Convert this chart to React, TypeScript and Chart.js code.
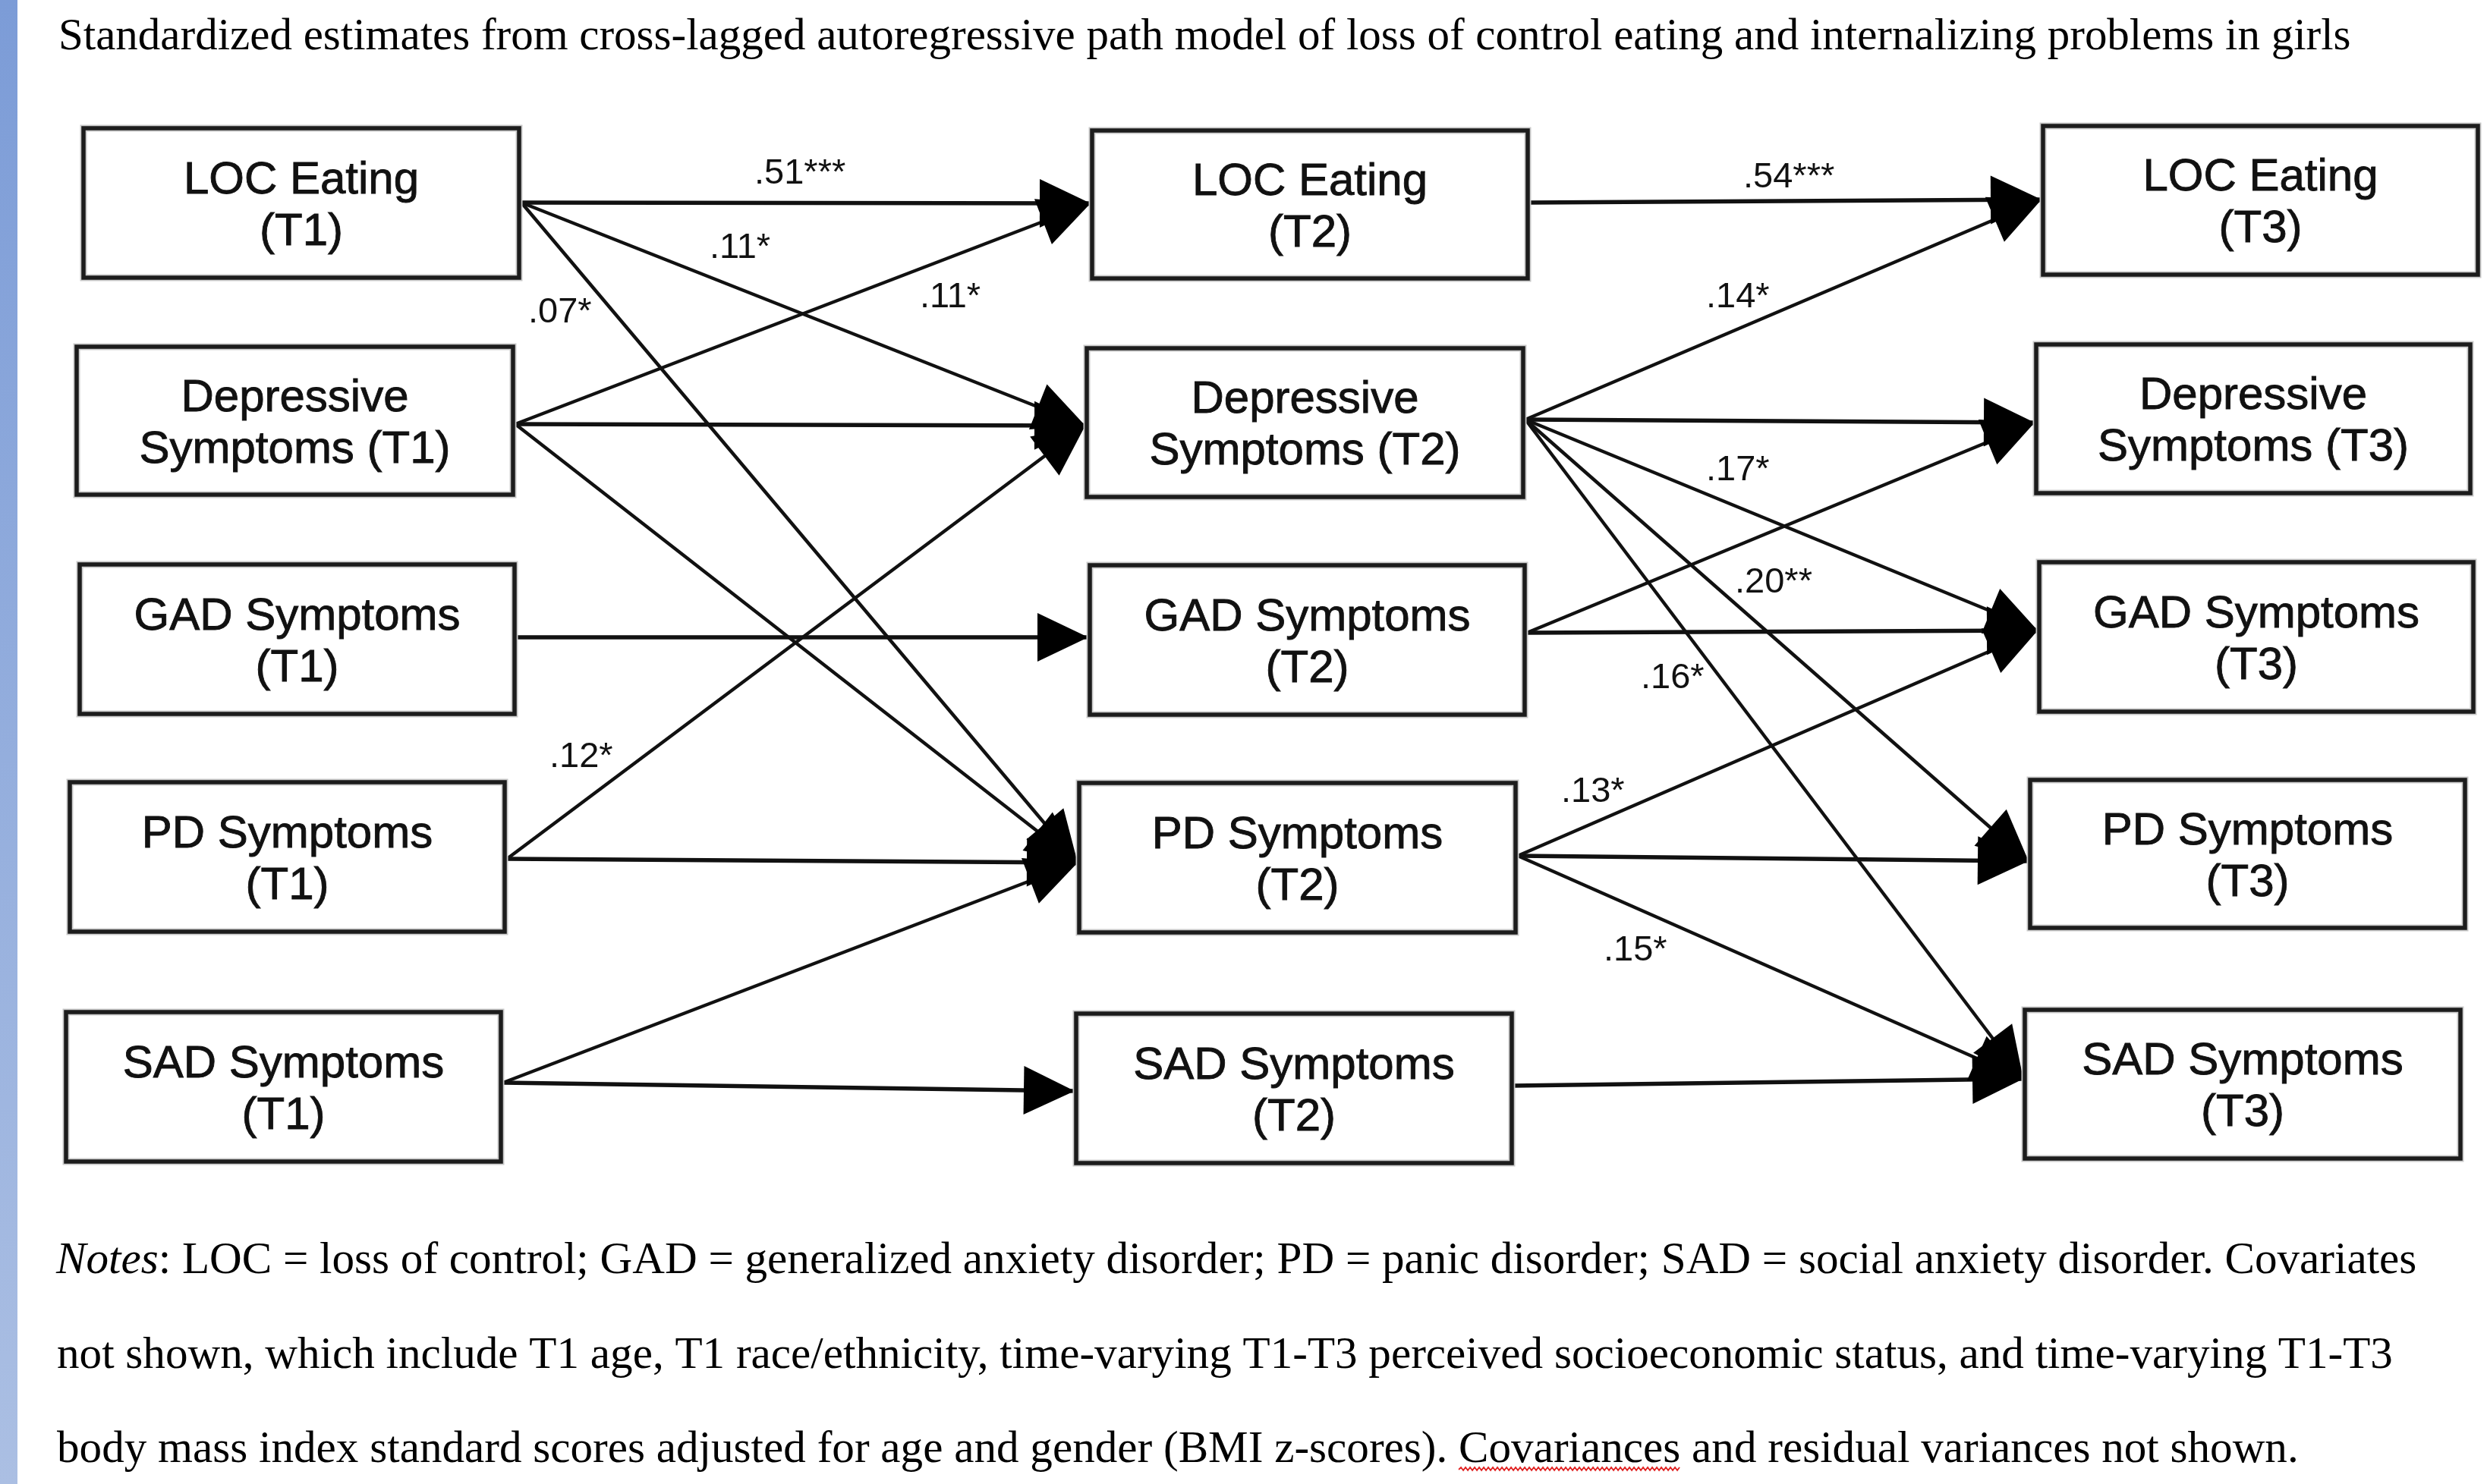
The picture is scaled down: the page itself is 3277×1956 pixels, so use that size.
import React, { useEffect, useRef } from "react";
import { Chart, registerables } from "chart.js";

Chart.register(...registerables);

const W = 3277;
const H = 1956;

// ---------- data ----------
const nodeLine1 = [
  "LOC Eating", "Depressive", "GAD Symptoms", "PD Symptoms", "SAD Symptoms",
  "LOC Eating", "Depressive", "GAD Symptoms", "PD Symptoms", "SAD Symptoms",
  "LOC Eating", "Depressive", "GAD Symptoms", "PD Symptoms", "SAD Symptoms",
];
const nodeLine2 = [
  "(T1)", "Symptoms (T1)", "(T1)", "(T1)", "(T1)",
  "(T2)", "Symptoms (T2)", "(T2)", "(T2)", "(T2)",
  "(T3)", "Symptoms (T3)", "(T3)", "(T3)", "(T3)",
];
const edgeFrom = [0, 0, 0, 1, 1, 1, 2, 3, 3, 4, 4, 5, 6, 6, 6, 6, 6, 7, 7, 8, 8, 8, 9];
const edgeTo = [5, 6, 8, 5, 6, 8, 7, 6, 8, 8, 9, 10, 10, 11, 12, 13, 14, 11, 12, 12, 13, 14, 14];
const edgeCoef = [
  ".51***", ".11*", ".07*", ".11*", "", "", "", ".12*", "", "", "",
  ".54***", ".14*", "", ".17*", ".20**", ".16*", "", "", ".13*", "", ".15*", "",
];

const titleText =
  "Standardized estimates from cross-lagged autoregressive path model of loss of control eating and internalizing problems in girls";
const notesItalic = "Notes";
const notesLines = [
  ": LOC = loss of control; GAD = generalized anxiety disorder; PD = panic disorder; SAD = social anxiety disorder. Covariates",
  "not shown, which include T1 age, T1 race/ethnicity, time-varying T1-T3 perceived socioeconomic status, and time-varying T1-T3",
  "body mass index standard scores adjusted for age and gender (BMI z-scores). Covariances and residual variances not shown.",
];
const squiggleWord = "Covariances";

// ---------- layout (pixels in the 3277x1956 frame) ----------
const boxL = [110, 101, 105, 92, 87, 1439, 1432, 1436, 1422, 1418, 2692, 2683, 2687, 2675, 2668];
const boxT = [169, 457, 744, 1031, 1334, 172, 459, 745, 1032, 1336, 166, 454, 741, 1028, 1331];
const boxR = [684, 676, 678, 665, 660, 2013, 2007, 2009, 1997, 1992, 3265, 3255, 3259, 3248, 3242];
const boxB = [366, 652, 941, 1228, 1531, 367, 655, 942, 1229, 1533, 362, 650, 938, 1223, 1527];
const outY = [267, 559, 840, 1132, 1427, 267, 553, 834, 1128, 1431, 0, 0, 0, 0, 0];
const inY = [0, 0, 0, 0, 0, 268, 561, 840, 1137, 1438, 263, 557, 831, 1135, 1422];
const labelX = [994, 935, 696, 1212, 0, 0, 0, 724, 0, 0, 0, 2297, 2248, 0, 2248, 2286, 2162, 0, 0, 2057, 0, 2113, 0];
const labelY = [242, 340, 425, 405, 0, 0, 0, 1011, 0, 0, 0, 247, 405, 0, 633, 781, 907, 0, 0, 1057, 0, 1266, 0];

const SANS = '"Liberation Sans", Arial, sans-serif';
const SERIF = '"Liberation Serif", "Times New Roman", serif';
const INK = "#111111";

const datasets = edgeFrom.map((f, i) => {
  const t = edgeTo[i];
  const x1 = boxR[f] + 3;
  const y1 = outY[f];
  const x2 = boxL[t] - 2;
  const y2 = inY[t];
  const horizontal = Math.abs(y2 - y1) < 20;
  return {
    label: `${f}-${t}`,
    data: [
      { x: x1, y: y1 },
      { x: x2, y: y2 },
    ],
    showLine: true,
    borderColor: INK,
    borderWidth: horizontal ? 5.5 : 4.5,
    pointRadius: 0,
    pointHoverRadius: 0,
    fill: false,
    tension: 0,
  };
});

const diagramPlugin = {
  id: "pathDiagram",
  beforeDraw(chart: any) {
    const ctx = chart.ctx as CanvasRenderingContext2D;
    ctx.save();
    ctx.fillStyle = "#ffffff";
    ctx.fillRect(0, 0, chart.width, chart.height);
    const xs = chart.scales.x;
    const ys = chart.scales.y;
    const g = ctx.createLinearGradient(0, ys.getPixelForValue(0), 0, ys.getPixelForValue(H));
    g.addColorStop(0, "#7c9cd7");
    g.addColorStop(1, "#abbfe3");
    ctx.fillStyle = g;
    ctx.fillRect(xs.getPixelForValue(0), ys.getPixelForValue(0), xs.getPixelForValue(23) - xs.getPixelForValue(0), ys.getPixelForValue(H) - ys.getPixelForValue(0));
    ctx.restore();
  },
  afterDatasetsDraw(chart: any) {
    const ctx = chart.ctx as CanvasRenderingContext2D;
    const xs = chart.scales.x;
    const ys = chart.scales.y;
    const px = (v: number) => xs.getPixelForValue(v);
    const py = (v: number) => ys.getPixelForValue(v);
    ctx.save();

    // arrowheads
    chart.data.datasets.forEach((_d: any, i: number) => {
      const meta = chart.getDatasetMeta(i);
      const a = meta.data[0];
      const b = meta.data[1];
      if (!a || !b) return;
      const dx = b.x - a.x;
      const dy = b.y - a.y;
      const len = Math.hypot(dx, dy);
      const ux = dx / len;
      const uy = dy / len;
      const L = 67;
      const hw = 32;
      const bx = b.x - ux * L;
      const by = b.y - uy * L;
      ctx.beginPath();
      ctx.moveTo(b.x, b.y);
      ctx.lineTo(bx - uy * hw, by + ux * hw);
      ctx.lineTo(bx + uy * hw, by - ux * hw);
      ctx.closePath();
      ctx.fillStyle = "#000";
      ctx.fill();
    });

    // boxes
    for (let i = 0; i < nodeLine1.length; i++) {
      const l = px(boxL[i]);
      const t = py(boxT[i]);
      const r = px(boxR[i]);
      const b = py(boxB[i]);
      ctx.fillStyle = "#ffffff";
      ctx.fillRect(l, t, r - l, b - t);
      ctx.lineJoin = "miter";
      ctx.strokeStyle = "#c9c9c9";
      ctx.lineWidth = 9;
      ctx.strokeRect(l, t, r - l, b - t);
      ctx.strokeStyle = "#1c1c1c";
      ctx.lineWidth = 5.5;
      ctx.strokeRect(l, t, r - l, b - t);
      const cx = (l + r) / 2;
      const cy = (t + b) / 2;
      ctx.fillStyle = INK;
      ctx.strokeStyle = INK;
      ctx.lineWidth = 0.9;
      ctx.font = `60px ${SANS}`;
      ctx.textAlign = "center";
      ctx.textBaseline = "alphabetic";
      ctx.fillText(nodeLine1[i], cx, cy - 34 + 21);
      ctx.strokeText(nodeLine1[i], cx, cy - 34 + 21);
      ctx.fillText(nodeLine2[i], cx, cy + 34 + 21);
      ctx.strokeText(nodeLine2[i], cx, cy + 34 + 21);
    }

    // coefficient labels
    ctx.font = `47px ${SANS}`;
    ctx.textAlign = "left";
    ctx.fillStyle = INK;
    edgeCoef.forEach((c, i) => {
      if (!c) return;
      ctx.fillText(c, px(labelX[i]), py(labelY[i]));
    });

    // title
    ctx.fillStyle = "#000";
    ctx.font = `100px ${SERIF}`;
    const tw = ctx.measureText(titleText).width;
    const tSize = (100 * (3098 - 77)) / tw;
    ctx.font = `${tSize}px ${SERIF}`;
    ctx.fillText(titleText, px(77), py(65));

    // notes
    ctx.font = `italic 100px ${SERIF}`;
    const wi = ctx.measureText(notesItalic).width;
    ctx.font = `100px ${SERIF}`;
    const wr = ctx.measureText(notesLines[0]).width;
    const nSize = (100 * (3185 - 74)) / (wi + wr);
    const baselines = [1678, 1803, 1927];
    ctx.font = `italic ${nSize}px ${SERIF}`;
    ctx.fillText(notesItalic, px(74), py(baselines[0]));
    const wiS = ctx.measureText(notesItalic).width;
    ctx.font = `${nSize}px ${SERIF}`;
    ctx.fillText(notesLines[0], px(74) + wiS, py(baselines[0]));
    ctx.fillText(notesLines[1], px(75), py(baselines[1]));
    ctx.fillText(notesLines[2], px(75), py(baselines[2]));

    // spell-check squiggle
    const idx = notesLines[2].indexOf(squiggleWord);
    const sx = px(75) + ctx.measureText(notesLines[2].slice(0, idx)).width;
    const sw = ctx.measureText(squiggleWord).width;
    const sy = py(baselines[2]) + 10;
    ctx.beginPath();
    ctx.strokeStyle = "#e02020";
    ctx.lineWidth = 1.8;
    let up = true;
    ctx.moveTo(sx, sy);
    for (let x = sx + 3; x <= sx + sw; x += 3) {
      ctx.lineTo(x, up ? sy - 3 : sy + 1);
      up = !up;
    }
    ctx.stroke();

    ctx.restore();
  },
};

export default function App() {
  const ref = useRef<HTMLCanvasElement | null>(null);
  useEffect(() => {
    const canvas = ref.current;
    if (!canvas) return;
    const chart = new Chart(canvas, {
      type: "scatter",
      data: { datasets: datasets as any },
      options: {
        animation: false,
        responsive: false,
        maintainAspectRatio: false,
        devicePixelRatio: 1,
        events: [],
        layout: { padding: 0 },
        plugins: {
          legend: { display: false },
          tooltip: { enabled: false },
          title: { display: false },
        },
        scales: {
          x: { type: "linear", min: 0, max: W, display: false },
          y: { type: "linear", min: 0, max: H, reverse: true, display: false },
        },
      },
      plugins: [diagramPlugin],
    } as any);
    return () => chart.destroy();
  }, []);
  return (
    <canvas
      ref={ref}
      width={W}
      height={H}
      style={{ position: "absolute", left: 0, top: 0, width: W, height: H, display: "block" }}
    />
  );
}
